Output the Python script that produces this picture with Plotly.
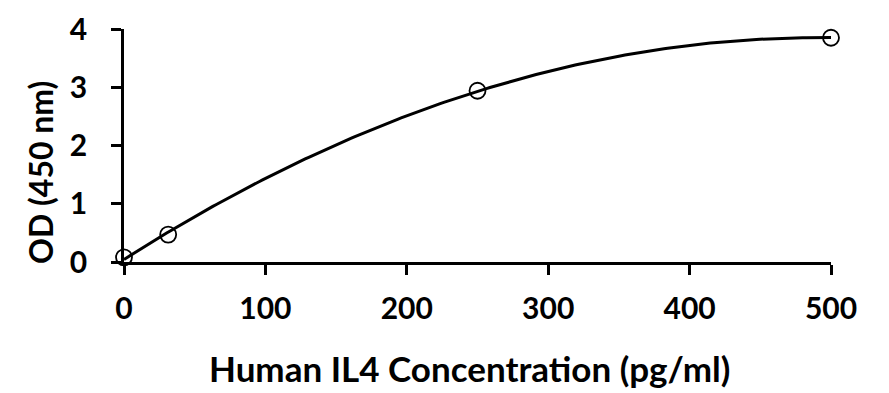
import numpy as np
import plotly.graph_objects as go

# Data
conc = [0, 31.25, 250, 500]          # Human IL4 concentration (pg/ml)
od = [0.08, 0.47, 2.94, 3.85]        # OD (450 nm)
x_ticks = [0, 100, 200, 300, 400, 500]
y_ticks = [0, 1, 2, 3, 4]
x_title = "Human IL4 Concentration (pg/ml)"
y_title = "OD (450 nm)"

# Polynomial (order 2) trendline derived from the data, like a spreadsheet trendline
coef = np.polyfit(conc, od, 2)
xf = np.linspace(min(conc), max(conc), 200)
yf = np.polyval(coef, xf)

FONT = "Lato"
fig = go.Figure()
fig.add_trace(go.Scatter(x=xf, y=yf, mode="lines",
                         line=dict(color="black", width=3),
                         hoverinfo="skip", showlegend=False))
fig.add_trace(go.Scatter(x=conc, y=od, mode="markers",
                         marker=dict(symbol="circle-open", size=16,
                                     color="black", line=dict(width=1.8, color="black")),
                         showlegend=False, cliponaxis=False))

fig.update_layout(
    width=889, height=393,
    margin=dict(l=116, r=66, t=21, b=139, autoexpand=False),
    paper_bgcolor="white", plot_bgcolor="white",
    font=dict(family=FONT, color="black", size=30, weight="bold"),
    xaxis=dict(range=[0, 500], tickvals=x_ticks, ticks="outside", ticklen=10,
               tickwidth=2.5, tickcolor="black", showline=True, linecolor="black",
               linewidth=2.5, showgrid=False, zeroline=False, automargin=False,
               ticklabelstandoff=8,
               tickfont=dict(size=30, family=FONT, weight="bold")),
    yaxis=dict(range=[0, 4], tickvals=y_ticks, ticks="outside", ticklen=10,
               tickwidth=2.5, tickcolor="black", showline=True, linecolor="black",
               linewidth=2.5, showgrid=False, zeroline=False, automargin=False,
               ticklabelstandoff=18,
               tickfont=dict(size=30, family=FONT, weight="bold")),
    annotations=[
        dict(text=x_title, xref="paper", yref="paper", x=0.488, y=-0.455,
             xanchor="center", yanchor="middle", showarrow=False,
             font=dict(size=35, family=FONT, weight="bold", color="black")),
        dict(text=y_title, xref="paper", yref="paper", x=-0.119, y=0.386,
             xanchor="center", yanchor="middle", showarrow=False, textangle=-90,
             font=dict(size=32, family=FONT, weight="bold", color="black")),
    ],
)

fig.write_html("out.html")
